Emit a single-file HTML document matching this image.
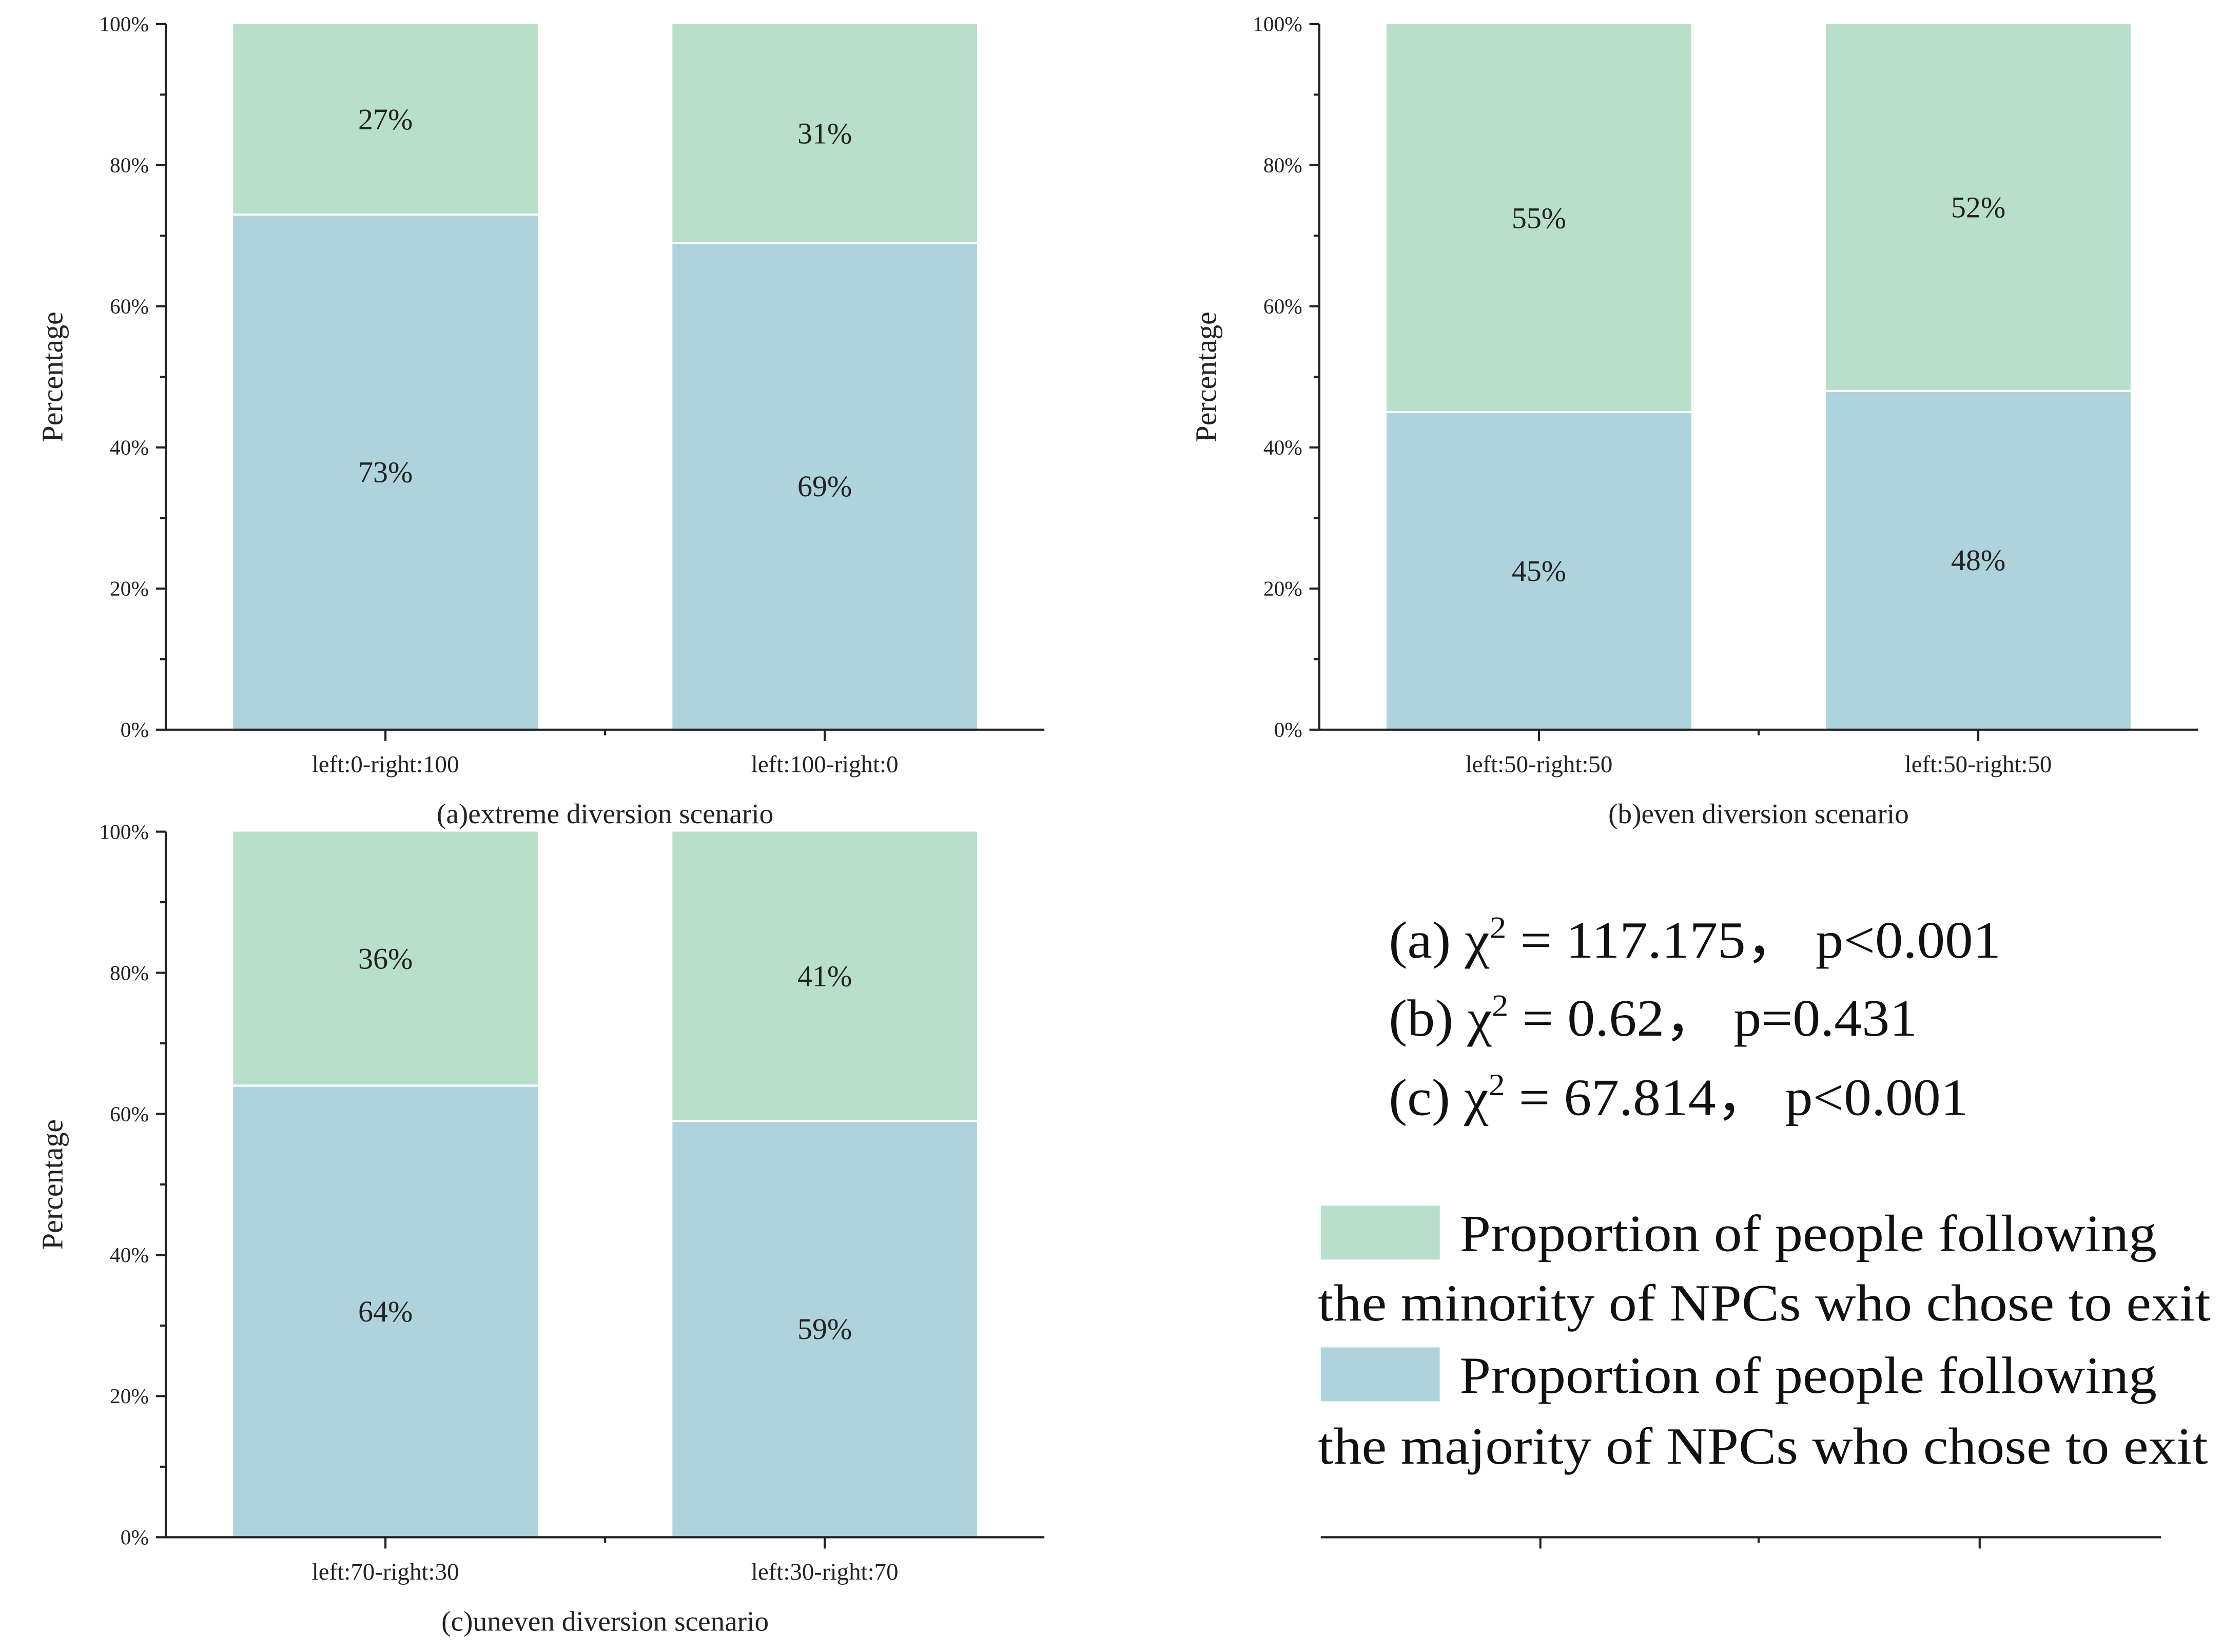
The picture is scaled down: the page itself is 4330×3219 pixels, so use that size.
<!DOCTYPE html>
<html><head><meta charset="utf-8"><style>
html,body{margin:0;padding:0;background:#fff;}
svg{display:block;font-family:"Liberation Serif",serif;}
</style></head><body>
<svg id="chart" width="4330" height="3219" viewBox="0 0 1568 1166" preserveAspectRatio="none" xmlns="http://www.w3.org/2000/svg">
<g id="stats" font-size="37" fill="#111">
<text x="980" y="676" textLength="432" lengthAdjust="spacingAndGlyphs">(a) χ<tspan dy="-14" font-size="22">2</tspan><tspan dy="14"> = 117.175，  p&lt;0.001</tspan></text>
<text x="980" y="731" textLength="373" lengthAdjust="spacingAndGlyphs">(b) χ<tspan dy="-14" font-size="22">2</tspan><tspan dy="14"> = 0.62，  p=0.431</tspan></text>
<text x="980" y="787" textLength="409" lengthAdjust="spacingAndGlyphs">(c) χ<tspan dy="-14" font-size="22">2</tspan><tspan dy="14"> = 67.814，  p&lt;0.001</tspan></text>
</g>
<g id="legend" font-size="37" fill="#111">
<rect x="932" y="851" width="84" height="38" fill="#b8dfc9"/>
<text x="1030" y="883" textLength="492" lengthAdjust="spacingAndGlyphs">Proportion of people following</text>
<text x="930" y="932" textLength="630" lengthAdjust="spacingAndGlyphs">the minority of NPCs who chose to exit</text>
<rect x="932" y="951" width="84" height="38" fill="#aed3dc"/>
<text x="1030" y="983" textLength="492" lengthAdjust="spacingAndGlyphs">Proportion of people following</text>
<text x="930" y="1033" textLength="628" lengthAdjust="spacingAndGlyphs">the majority of NPCs who chose to exit</text>
</g>
<g stroke="#222" stroke-width="1.5">
<line x1="932" y1="1085" x2="1525" y2="1085"/>
<line x1="1087" y1="1085" x2="1087" y2="1093"/>
<line x1="1241" y1="1085" x2="1241" y2="1089"/>
<line x1="1397" y1="1085" x2="1397" y2="1093"/>
</g>
</svg>
<script>
const categoriesA = ["left:0-right:100", "left:100-right:0"];
const majorityA = [73, 69];
const categoriesB = ["left:50-right:50", "left:50-right:50"];
const majorityB = [45, 48];
const categoriesC = ["left:70-right:30", "left:30-right:70"];
const majorityC = [64, 59];
const yTickLabels = ["0%", "20%", "40%", "60%", "80%", "100%"];
const yTickValues = [0, 20, 40, 60, 80, 100];

const NS = "http://www.w3.org/2000/svg";
const svg = document.getElementById("chart");
function mk(tag, attrs, parent) {
  const e = document.createElementNS(NS, tag);
  for (const k in attrs) e.setAttribute(k, attrs[k]);
  parent.appendChild(e);
  return e;
}
function panel(id, ox, oy, cats, maj, title) {
  const x0 = ox, xEnd = ox + 620, yTop = oy, yBot = oy + 498;
  const y = v => yBot - (v / 100) * (yBot - yTop);
  const bandW = (xEnd - x0) / cats.length;
  const barW = 215;
  const xc = i => x0 + bandW * (i + 0.5);
  const g = mk("g", {}, svg);
  
  
  cats.forEach((c, i) => {
    const m = maj[i], n = 100 - m;
    const bx = xc(i) - barW / 2;
    const rb = mk("rect", {x: bx, y: y(m), width: barW, height: yBot - y(m), fill: "#aed3dc"}, g);
    
    
    const rg = mk("rect", {x: bx, y: y(100), width: barW, height: y(m) - y(100), fill: "#b8dfc9"}, g);
    
    
    mk("line", {x1: bx, x2: bx + barW, y1: y(m), y2: y(m), stroke: "#fff", "stroke-width": 1.5}, g);
    const t1 = mk("text", {x: xc(i), y: (y(m) + yBot) / 2 + 7, "font-size": 21, "text-anchor": "middle", fill: "#222"}, g);
    t1.textContent = m + "%";
    
    
    const t2 = mk("text", {x: xc(i), y: (y(m) + y(100)) / 2 + 7, "font-size": 21, "text-anchor": "middle", fill: "#222"}, g);
    t2.textContent = n + "%";
    
    
    const xl = mk("text", {x: xc(i), y: yBot + 30, "font-size": 17, "text-anchor": "middle", fill: "#222"}, g);
    xl.textContent = c;
    
    
    mk("line", {x1: xc(i), x2: xc(i), y1: yBot, y2: yBot + 8, stroke: "#222", "stroke-width": 1.5}, g);
  });
  for (let i = 1; i < cats.length; i++) {
    mk("line", {x1: x0 + bandW * i, x2: x0 + bandW * i, y1: yBot, y2: yBot + 4, stroke: "#222", "stroke-width": 1.5}, g);
  }
  const ax = mk("path", {d: `M${x0},${yTop} L${x0},${yBot} L${xEnd},${yBot}`, fill: "none", stroke: "#222", "stroke-width": 1.5}, g);
  
  
  for (let v = 0; v <= 100; v += 10) {
    const major = v % 20 === 0;
    mk("line", {x1: x0 - (major ? 7 : 4), x2: x0, y1: y(v), y2: y(v), stroke: "#222", "stroke-width": 1.5}, g);
  }
  yTickValues.forEach((v, i) => {
    const t = mk("text", {x: x0 - 12, y: y(v) + 5, "font-size": 15, "text-anchor": "end", fill: "#222"}, g);
    t.textContent = yTickLabels[i];
    
    
  });
  const yl = mk("text", {x: 0, y: 0, "font-size": 21, "text-anchor": "middle", fill: "#222", transform: `translate(${x0 - 73},${(yTop + yBot) / 2}) rotate(-90)`}, g);
  yl.textContent = "Percentage";
  
  
  const tt = mk("text", {x: x0 + 310, y: yBot + 66, "font-size": 20, "text-anchor": "middle", fill: "#222"}, g);
  tt.textContent = title;
  
  
}
panel("a", 117, 17, categoriesA, majorityA, "(a)extreme diversion scenario");
panel("b", 931, 17, categoriesB, majorityB, "(b)even diversion scenario");
panel("c", 117, 587, categoriesC, majorityC, "(c)uneven diversion scenario");
</script>
</body></html>
